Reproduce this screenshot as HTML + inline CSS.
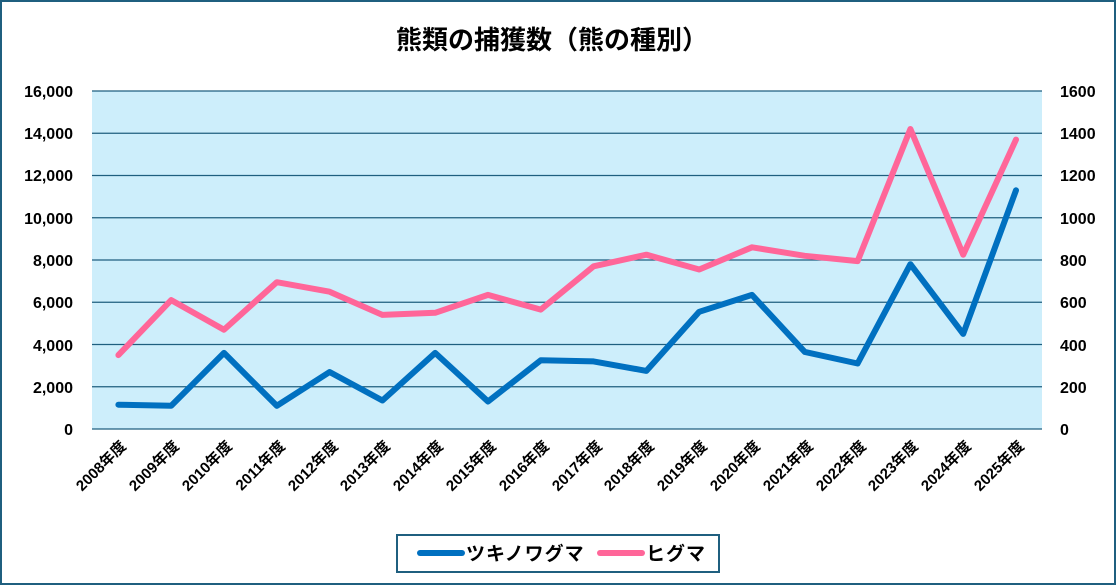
<!DOCTYPE html>
<html><head><meta charset="utf-8"><style>
html,body{margin:0;padding:0;background:#fff;}
svg{display:block;font-family:"Liberation Sans","Noto Sans CJK JP",sans-serif;}
</style></head><body>
<svg width="1116" height="585" viewBox="0 0 1116 585" xmlns="http://www.w3.org/2000/svg">
<rect x="1" y="1" width="1114" height="583" fill="#fff" stroke="#1f5f7f" stroke-width="2"/>
<text x="552" y="49" text-anchor="middle" font-size="26" font-weight="bold" fill="#000">熊類の捕獲数（熊の種別）</text>
<rect x="92" y="91" width="950" height="338" fill="#cdeefb"/>
<g stroke="#1f5f7f" stroke-width="1.3">
<line x1="92" x2="1042" y1="91" y2="91"/>
<line x1="92" x2="1042" y1="133.25" y2="133.25"/>
<line x1="92" x2="1042" y1="175.5" y2="175.5"/>
<line x1="92" x2="1042" y1="217.75" y2="217.75"/>
<line x1="92" x2="1042" y1="260" y2="260"/>
<line x1="92" x2="1042" y1="302.25" y2="302.25"/>
<line x1="92" x2="1042" y1="344.5" y2="344.5"/>
<line x1="92" x2="1042" y1="386.75" y2="386.75"/>
<line x1="92" x2="1042" y1="429" y2="429"/>
</g>
<g font-size="16" fill="#000" text-anchor="end" font-weight="bold">
<text x="73" y="97">16,000</text><text x="73" y="139">14,000</text><text x="73" y="181">12,000</text><text x="73" y="224">10,000</text><text x="73" y="266">8,000</text><text x="73" y="308">6,000</text><text x="73" y="351">4,000</text><text x="73" y="393">2,000</text><text x="73" y="435">0</text>
</g>
<g font-size="16" fill="#000" text-anchor="start" font-weight="bold">
<text x="1060" y="97">1600</text><text x="1060" y="139">1400</text><text x="1060" y="181">1200</text><text x="1060" y="224">1000</text><text x="1060" y="266">800</text><text x="1060" y="308">600</text><text x="1060" y="351">400</text><text x="1060" y="393">200</text><text x="1060" y="435">0</text>
</g>
<g font-size="15" fill="#000" text-anchor="end" font-weight="bold">
<text transform="translate(127,447) rotate(-45)">2008年度</text>
<text transform="translate(180,447) rotate(-45)">2009年度</text>
<text transform="translate(233,447) rotate(-45)">2010年度</text>
<text transform="translate(286,447) rotate(-45)">2011年度</text>
<text transform="translate(339,447) rotate(-45)">2012年度</text>
<text transform="translate(391,447) rotate(-45)">2013年度</text>
<text transform="translate(444,447) rotate(-45)">2014年度</text>
<text transform="translate(497,447) rotate(-45)">2015年度</text>
<text transform="translate(550,447) rotate(-45)">2016年度</text>
<text transform="translate(603,447) rotate(-45)">2017年度</text>
<text transform="translate(655,447) rotate(-45)">2018年度</text>
<text transform="translate(708,447) rotate(-45)">2019年度</text>
<text transform="translate(761,447) rotate(-45)">2020年度</text>
<text transform="translate(814,447) rotate(-45)">2021年度</text>
<text transform="translate(867,447) rotate(-45)">2022年度</text>
<text transform="translate(919,447) rotate(-45)">2023年度</text>
<text transform="translate(972,447) rotate(-45)">2024年度</text>
<text transform="translate(1025,447) rotate(-45)">2025年度</text>
</g>
<polyline fill="none" stroke="#ff6699" stroke-width="6" stroke-linejoin="round" stroke-linecap="round" points="118.4,355.1 171.2,300.1 224,329.7 276.8,282.2 329.6,291.7 382.4,314.9 435.2,312.8 488,294.9 540.8,309.6 593.6,266.3 646.4,254.7 699.2,269.5 752,247.3 804.8,255.8 857.6,261.1 910.4,129 963.2,254.7 1016,139.6"/>
<polyline fill="none" stroke="#0070c0" stroke-width="6" stroke-linejoin="round" stroke-linecap="round" points="118.4,404.7 171.2,405.8 224,352.9 276.8,405.8 329.6,372 382.4,400.5 435.2,352.9 488,401.5 540.8,360.3 593.6,361.4 646.4,370.9 699.2,311.8 752,294.9 804.8,351.9 857.6,363.5 910.4,264.2 963.2,333.9 1016,190.3"/>
<rect x="397" y="535" width="322" height="37" fill="#fff" stroke="#1f5f7f" stroke-width="2"/>
<line x1="420" x2="462" y1="553" y2="553" stroke="#0070c0" stroke-width="6" stroke-linecap="round"/>
<text x="466" y="560" font-size="19" font-weight="bold" fill="#000" letter-spacing="1">ツキノワグマ</text>
<line x1="600" x2="642" y1="553" y2="553" stroke="#ff6699" stroke-width="6" stroke-linecap="round"/>
<text x="646" y="560" font-size="19" font-weight="bold" fill="#000" letter-spacing="1">ヒグマ</text>
</svg>
</body></html>
